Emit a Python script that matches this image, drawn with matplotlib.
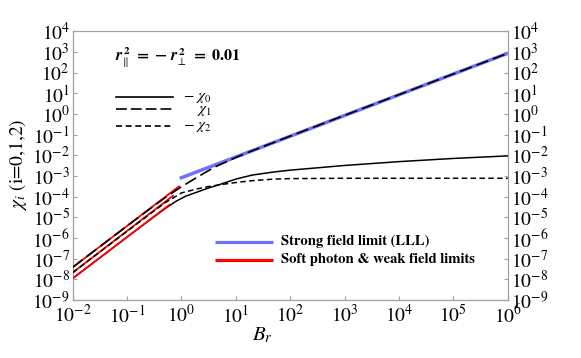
import matplotlib
matplotlib.use('Agg')
import matplotlib.pyplot as plt
from matplotlib.lines import Line2D

plt.rcParams['font.family'] = ['STIXGeneral', 'DejaVu Serif']
plt.rcParams['mathtext.fontset'] = 'stix'

# ---- data ----
B_chi0 = [0.01, 0.1, 0.3, 0.5, 0.8, 1.2, 2, 3, 5, 10, 20, 50, 100, 1e3, 1e4, 1e5, 1e6]
chi0 = [1.1e-8, 1.1e-6, 9.7e-6, 2.6e-5, 6.0e-5, 1.05e-4, 1.7e-4, 2.5e-4, 3.8e-4, 7.0e-4,
        1.1e-3, 1.55e-3, 1.9e-3, 3.2e-3, 4.9e-3, 7.0e-3, 9.3e-3]

B_chi1 = [0.01, 0.1, 0.3, 0.5, 1, 2, 4, 10, 20, 100, 1e3, 1e4, 1e5, 1e6]
chi1 = [3.8e-8, 3.8e-6, 3.3e-5, 8.8e-5, 3.0e-4, 9.0e-4, 2.6e-3, 7.8e-3, 1.65e-2,
        8.4e-2, 0.85, 8.5, 85, 850]

B_chi2 = [0.01, 0.1, 0.3, 0.5, 1, 2, 3, 5, 10, 20, 50, 100, 1e3, 1e6]
chi2 = [2.1e-8, 2.1e-6, 1.85e-5, 5.0e-5, 1.5e-4, 2.4e-4, 3.0e-4, 3.7e-4, 4.8e-4,
        5.9e-4, 7.0e-4, 7.4e-4, 7.7e-4, 7.7e-4]

B_strong = [0.93, 1e6]
chi_strong = [7.6e-4, 850]

B_soft1 = [0.01, 0.9]
soft1 = [3.8e-8, 3.1e-4]
B_soft2 = [0.01, 0.7]
soft2 = [2.1e-8, 1.1e-4]
B_soft0 = [0.01, 0.6]
soft0 = [1.1e-8, 4.0e-5]

xlim = (1e-2, 1e6)
ylim = (1e-9, 1e4)
legend_labels = [r'$-\ \chi_0$', r'$\chi_1$', r'$-\ \chi_2$']
limit_labels = ['Strong field limit (LLL)', 'Soft photon & weak field limits']

blue = '#7070ff'
red = '#ff0000'
frame = '#a0a0a0'

fig = plt.figure(figsize=(5.81, 3.58), dpi=100)
ax = fig.add_axes([0.125, 0.162, 0.749, 0.751])
ax.set_xscale('log')
ax.set_yscale('log')

long_dash = (7.5, 3.0)
short_dash = (3.6, 2.2)

ax.plot(B_chi0, chi0, color='black', lw=1.1, zorder=2)
ax.plot(B_soft0, soft0, color=red, lw=1.3, zorder=3)
ax.plot(B_soft1, soft1, color=red, lw=1.3, zorder=3)
ax.plot(B_soft2, soft2, color=red, lw=1.3, zorder=3)
ax.plot(B_strong, chi_strong, color=blue, lw=2.5, solid_capstyle='butt', zorder=3)
ax.plot(B_chi1, chi1, color='black', lw=1.2, dashes=long_dash, zorder=4)
ax.plot(B_chi2, chi2, color='black', lw=1.1, dashes=short_dash, zorder=4)

ax.set_xlim(*xlim)
ax.set_ylim(*ylim)
ax.set_xticks([10.0**k for k in range(-2, 7)])
ax.set_yticks([10.0**k for k in range(-9, 5)])
ax.minorticks_off()
ax.tick_params(which='both', direction='in', length=3, width=0.8, color=frame,
               labelsize=14, right=True, labelright=True, top=False, pad=2)
ax.tick_params(axis='x', pad=3)
for s in ax.spines.values():
    s.set_color(frame)
    s.set_linewidth(0.9)

# parameter annotation
ax.text(0.0975, 0.903,
        r'$\mathbfit{r}_{\!\parallel}^{\,\mathbf{2}}\ \mathbf{=}\ \mathbf{-}\ \mathbfit{r}_{\!\perp}^{\,\mathbf{2}}\ \mathbf{=}\ \mathbf{0.01}$',
        transform=ax.transAxes, fontsize=11.5, va='center', ha='left')

# black-line key
ys = [0.756, 0.709, 0.649]
styles = [None, (6.5, 2.4), short_dash]
for y, st, lab in zip(ys, styles, legend_labels):
    ln = Line2D([0.0995, 0.230], [y, y], transform=ax.transAxes, color='black', lw=1.2)
    if st is not None:
        ln.set_dashes(st)
    ax.add_line(ln)
    ax.text(0.254 if lab.startswith(r'$-') else 0.286, y - 0.006, lab, transform=ax.transAxes,
            fontsize=11, va='center', ha='left')

# limit key
for y, c, lab in zip([0.217, 0.149], [blue, red], limit_labels):
    ax.add_line(Line2D([0.327, 0.46], [y, y], transform=ax.transAxes, color=c, lw=2.3,
                       solid_capstyle='butt'))
    ax.text(0.479, y, lab, transform=ax.transAxes, fontsize=10.5, fontweight='bold',
            va='center', ha='left')

fig.text(0.451, 0.062, r'$B_r$', fontsize=15, ha='center', va='center')
fig.text(0.031, 0.539, r'$\chi_i$ (i=0,1,2)', fontsize=14, ha='center', va='center',
         rotation=90)

fig.savefig('out.png', dpi=100)
